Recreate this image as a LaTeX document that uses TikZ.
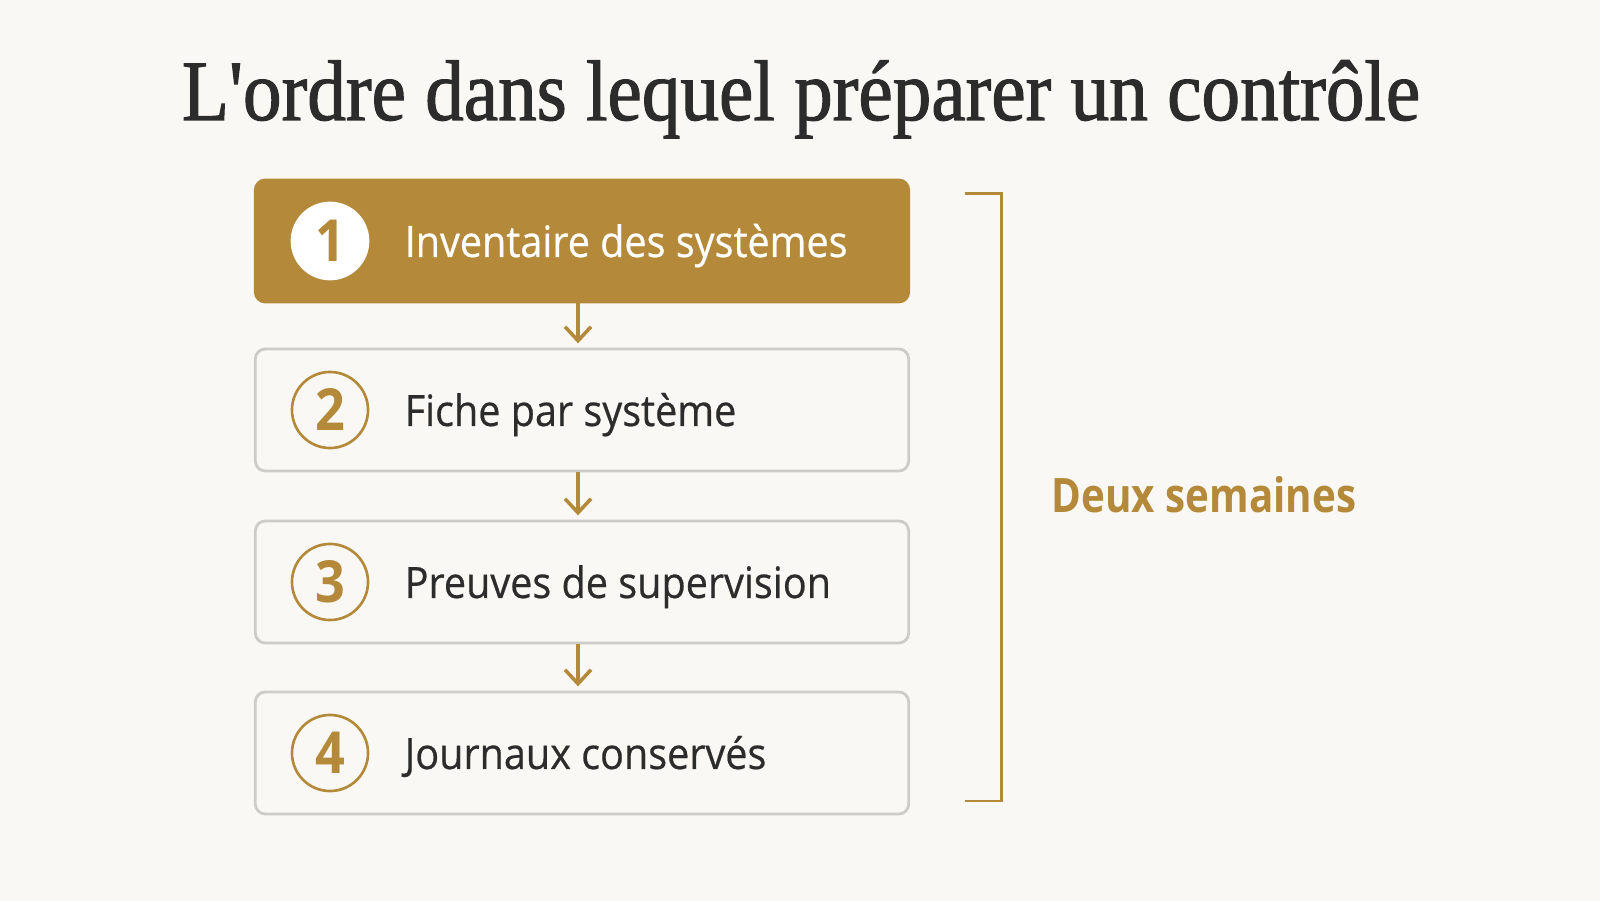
\documentclass[tikz,border=0pt]{standalone}
\usepackage{fontspec}
\setmainfont{Liberation Serif}
\setsansfont{Open Sans}
\newfontfamily\titrefont[FakeStretch=0.9,FakeBold=1.3]{Liberation Serif}
\newfontfamily\etiqfont[FakeStretch=0.915,FakeBold=0.5]{Open Sans}
\newfontfamily\chiffrefont[FakeStretch=0.9,BoldFont={Open Sans Bold}]{Open Sans}
\newfontfamily\dureefont[FakeStretch=0.85]{Open Sans}
\usetikzlibrary{positioning, arrows.meta}
\definecolor{gold}{RGB}{180,138,58}
\definecolor{paper}{RGB}{249,248,244}
\definecolor{ink}{RGB}{44,44,44}
\definecolor{rim}{RGB}{204,204,200}

\begin{document}
\begin{tikzpicture}[x=0.01cm,y=-0.01cm,
	etape/.style={draw=rim,line width=0.8pt,rounded corners=0.1cm,minimum width=6.53cm,minimum height=1.22cm,inner sep=0pt},
	pastille/.style={draw=gold,circle,line width=0.75pt,minimum size=0.76cm,inner sep=0pt,text=gold,font=\chiffrefont\bfseries\fontsize{16.5}{17}\selectfont},
	libelle/.style={anchor=base west,text=ink,inner sep=0pt,font=\etiqfont\fontsize{12.3}{14}\selectfont},
	fleche/.style={draw=gold,line width=1pt,shorten >=1.2pt,-{Straight Barb[length=1.4mm,width=2.6mm]}}]
		\fill [paper] (0,0) rectangle (1600,901);
		\useasboundingbox (0,0) rectangle (1600,901);
		\node [anchor=base,text=ink,inner sep=0pt,font=\titrefont\fontsize{24.4}{26}\selectfont] at (801,120) (titre) {L'ordre dans lequel préparer un contrôle};

		\node [etape,fill=gold,draw=gold] at (582,241) (e1) {};
		\node [etape,fill=paper] at (582,410) (e2) {};
		\node [etape,fill=paper] at (582,582) (e3) {};
		\node [etape,fill=paper] at (582,753) (e4) {};

		\node [pastille,fill=white,draw=white] at (330,241) (n1) {1};
		\node [pastille] at (330,410) (n2) {2};
		\node [pastille] at (330,582) (n3) {3};
		\node [pastille] at (330,753) (n4) {4};

		\node [libelle,text=white] at (404,257) (l1) {Inventaire des systèmes};
		\node [libelle] at (404,426) (l2) {Fiche par système};
		\node [libelle] at (404,598) (l3) {Preuves de supervision};
		\node [libelle] at (404,769) (l4) {Journaux conservés};

		\draw [fleche] (e1.south -| 578,0) -- (e2.north -| 578,0);
		\draw [fleche] (e2.south -| 578,0) -- (e3.north -| 578,0);
		\draw [fleche] (e3.south -| 578,0) -- (e4.north -| 578,0);

		% accolade des deux semaines
		\coordinate (haut) at (965,194);
		\coordinate (bas) at (965,801);
		\draw [gold,line width=0.85pt] (haut) -- +(36,0) |- (bas);
		\node [anchor=west,text=gold,inner sep=0pt,font=\dureefont\bfseries\fontsize{13.5}{15}\selectfont] at (1051,495) (duree) {Deux semaines};
	\end{tikzpicture}
\end{document}
